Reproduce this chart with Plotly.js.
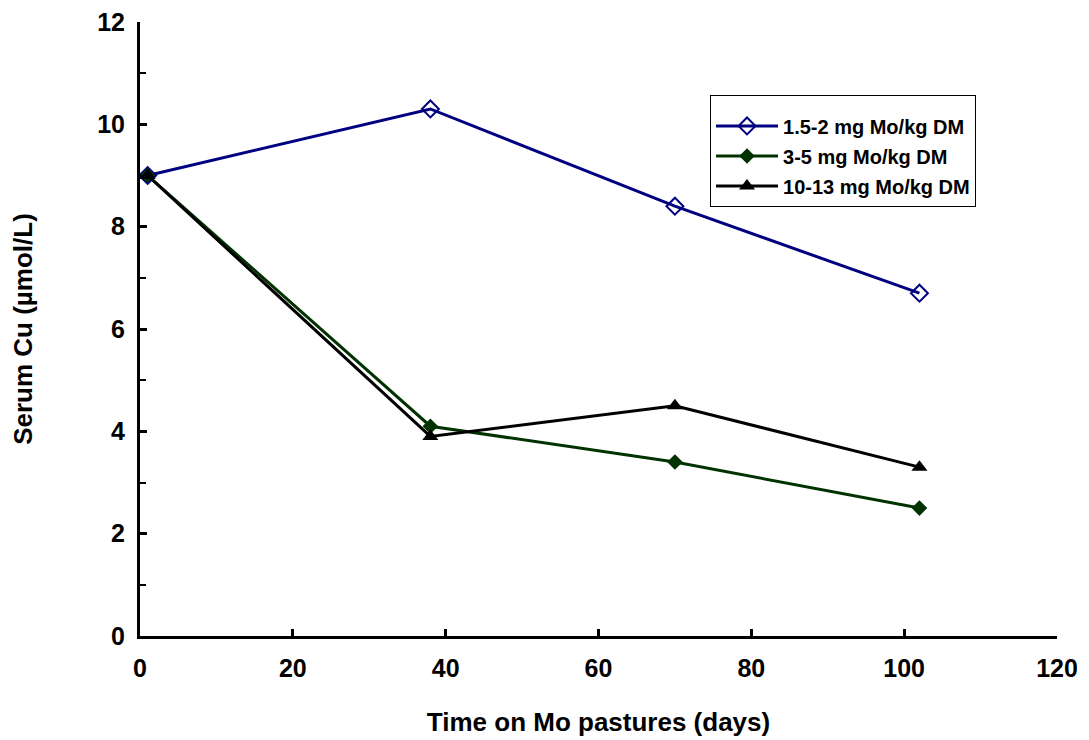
<!DOCTYPE html>
<html><head><meta charset="utf-8">
<script src="https://cdn.plot.ly/plotly-3.0.1.min.js"></script>
<style>html,body{margin:0;padding:0;background:#fff}#chart{width:1089px;height:740px}</style>
</head><body><div id="chart"></div>
<script>
const days = [1, 38, 70, 102];
const seriesNames = ["1.5-2 mg Mo/kg DM", "3-5 mg Mo/kg DM", "10-13 mg Mo/kg DM"];
const lowMo = [9.0, 10.3, 8.4, 6.7];
const midMo = [9.0, 4.1, 3.4, 2.5];
const highMo = [9.0, 3.9, 4.5, 3.3];

const F = "Liberation Sans, Arial, sans-serif";
const traces = [
  {x: days, y: lowMo, name: seriesNames[0], legendgroup: "a", mode: "lines+markers",
   line: {color: "#000080", width: 3},
   marker: {symbol: "diamond-open", size: 13, color: "#000080", line: {width: 2, color: "#000080"}}},
  {x: days, y: midMo, name: seriesNames[1], legendgroup: "b", mode: "lines+markers",
   line: {color: "#003300", width: 3},
   marker: {symbol: "diamond", size: 12, color: "#003300"}},
  {x: days, y: highMo, name: seriesNames[2], legendgroup: "c", mode: "lines+markers",
   line: {color: "#000000", width: 3},
   marker: {symbol: "triangle-up", size: 14, color: "#000000"}}
];
traces.forEach(t => t.cliponaxis = false);

const layout = {
  width: 1089, height: 740,
  margin: {l: 140, r: 32, t: 22, b: 104},
  paper_bgcolor: "#fff", plot_bgcolor: "#fff",
  font: {family: F, color: "#000", size: 20, weight: 700},
  showlegend: true,
  legend: {x: 0.6216, y: 0.881, xanchor: "left", yanchor: "top",
    bordercolor: "#000", borderwidth: 1, bgcolor: "#fff",
    font: {family: F, size: 20, color: "#000", weight: 700},
    title: {text: " ", font: {size: 8}},
    tracegroupgap: 1, itemwidth: 62},
  xaxis: {range: [0, 120], dtick: 20, tick0: 0, showgrid: false, zeroline: false,
    showline: true, linecolor: "#000", linewidth: 3,
    ticks: "inside", ticklen: 7, tickwidth: 3, tickcolor: "#000",
    ticklabelstandoff: 8,
    tickfont: {family: F, size: 25, weight: 700},
    title: {text: "Time on Mo pastures (days)", font: {family: F, size: 26, weight: 700}, standoff: 32}},
  yaxis: {range: [0, 12], dtick: 2, tick0: 0, showgrid: false, zeroline: false,
    showline: true, linecolor: "#000", linewidth: 3,
    ticks: "inside", ticklen: 7, tickwidth: 3, tickcolor: "#000",
    ticklabelstandoff: 7,
    minor: {dtick: 1, ticks: "inside", ticklen: 6, tickwidth: 2, tickcolor: "#000", showgrid: false},
    tickfont: {family: F, size: 25, weight: 700},
    title: {text: "Serum Cu (µmol/L)", font: {family: F, size: 26, weight: 700}, standoff: 58}}
};
Plotly.newPlot("chart", traces, layout, {staticPlot: true});
</script></body></html>
